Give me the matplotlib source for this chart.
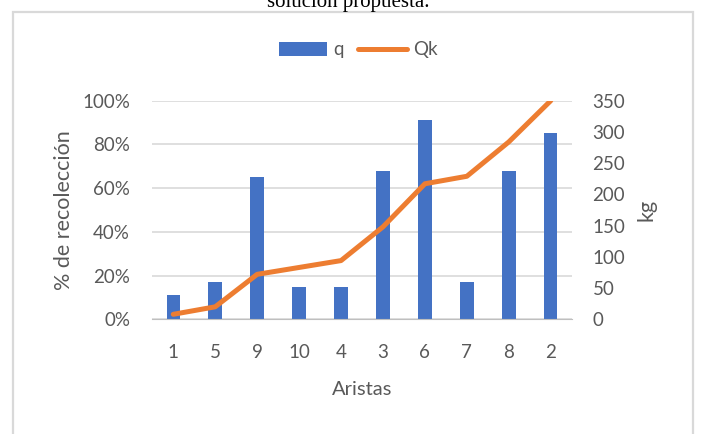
import numpy as np
import matplotlib
matplotlib.use("Agg")
import matplotlib.pyplot as plt
from matplotlib.patches import Rectangle
from matplotlib.ticker import PercentFormatter

aristas = ['1', '5', '9', '10', '4', '3', '6', '7', '8', '2']
q = [11, 17, 65, 15, 15, 68, 91, 17, 68, 85]        # % de recoleccion
qk = [8, 20, 72, 83, 94, 148, 217, 229, 284, 350]   # kg acumulados

W, H = 701, 434
plt.rcParams['font.family'] = ['Lato', 'DejaVu Sans']
gray = '#595959'

fig = plt.figure(figsize=(W / 100, H / 100), dpi=100)
ax = fig.add_axes([152.3 / W, 1 - 319.3 / H, (571.7 - 152.3) / W, (319.3 - 100.7) / H])
ax2 = ax.twinx()

x = np.arange(len(aristas))
ax.bar(x, q, width=0.32, color='#4472C4', label='q', zorder=2)
ax2.plot(x, qk, color='#ED7D31', lw=3.6, solid_capstyle='round', label='Qk', zorder=3)

ax.set_xlim(-0.5, len(aristas) - 0.5)
ax.set_ylim(0, 100)
ax2.set_ylim(0, 350)
ax.set_yticks(np.arange(0, 101, 20))
ax2.set_yticks(np.arange(0, 351, 50))
ax.yaxis.set_major_formatter(PercentFormatter(decimals=0))
ax.set_xticks(x)
ax.set_xticklabels(aristas)

ax.grid(axis='y', color='#D9D9D9', lw=1.2, zorder=0)
for a in (ax, ax2):
    for s in a.spines.values():
        s.set_visible(False)
    a.tick_params(length=0, labelsize=13.5, labelcolor=gray)
ax.spines['bottom'].set_visible(True)
ax.spines['bottom'].set_color('#BFBFBF')
ax.tick_params(axis='y', pad=16)
ax.tick_params(axis='x', pad=18)
ax2.tick_params(axis='y', pad=15)

ax.set_ylabel('% de recolección', fontsize=15.5, color=gray, labelpad=6)
ax2.set_ylabel('kg', fontsize=15.5, color=gray, labelpad=8)
ax.set_xlabel('Aristas', fontsize=14.5, color=gray, labelpad=14)

h1, l1 = ax.get_legend_handles_labels()
h2, l2 = ax2.get_legend_handles_labels()
fig.legend(h1 + h2, l1 + l2, loc='center', bbox_to_anchor=(358 / W, 1 - 50 / H), ncol=2,
           frameon=False, fontsize=13.5, labelcolor=gray, handlelength=2.6,
           handletextpad=0.3, columnspacing=0.8)

# chart border and cut-off caption from the page
fig.patches.append(Rectangle((13 / W, -0.1), (693 - 13) / W, 1.1 - 12 / H, transform=fig.transFigure,
                             fill=False, edgecolor='#D9D9D9', lw=1.6))
fig.text(348 / W, 1 - 7 / H, 'solución propuesta.', family='Liberation Serif', fontsize=15,
         ha='center', va='baseline', color='black')

fig.savefig('out.png', dpi=100)
